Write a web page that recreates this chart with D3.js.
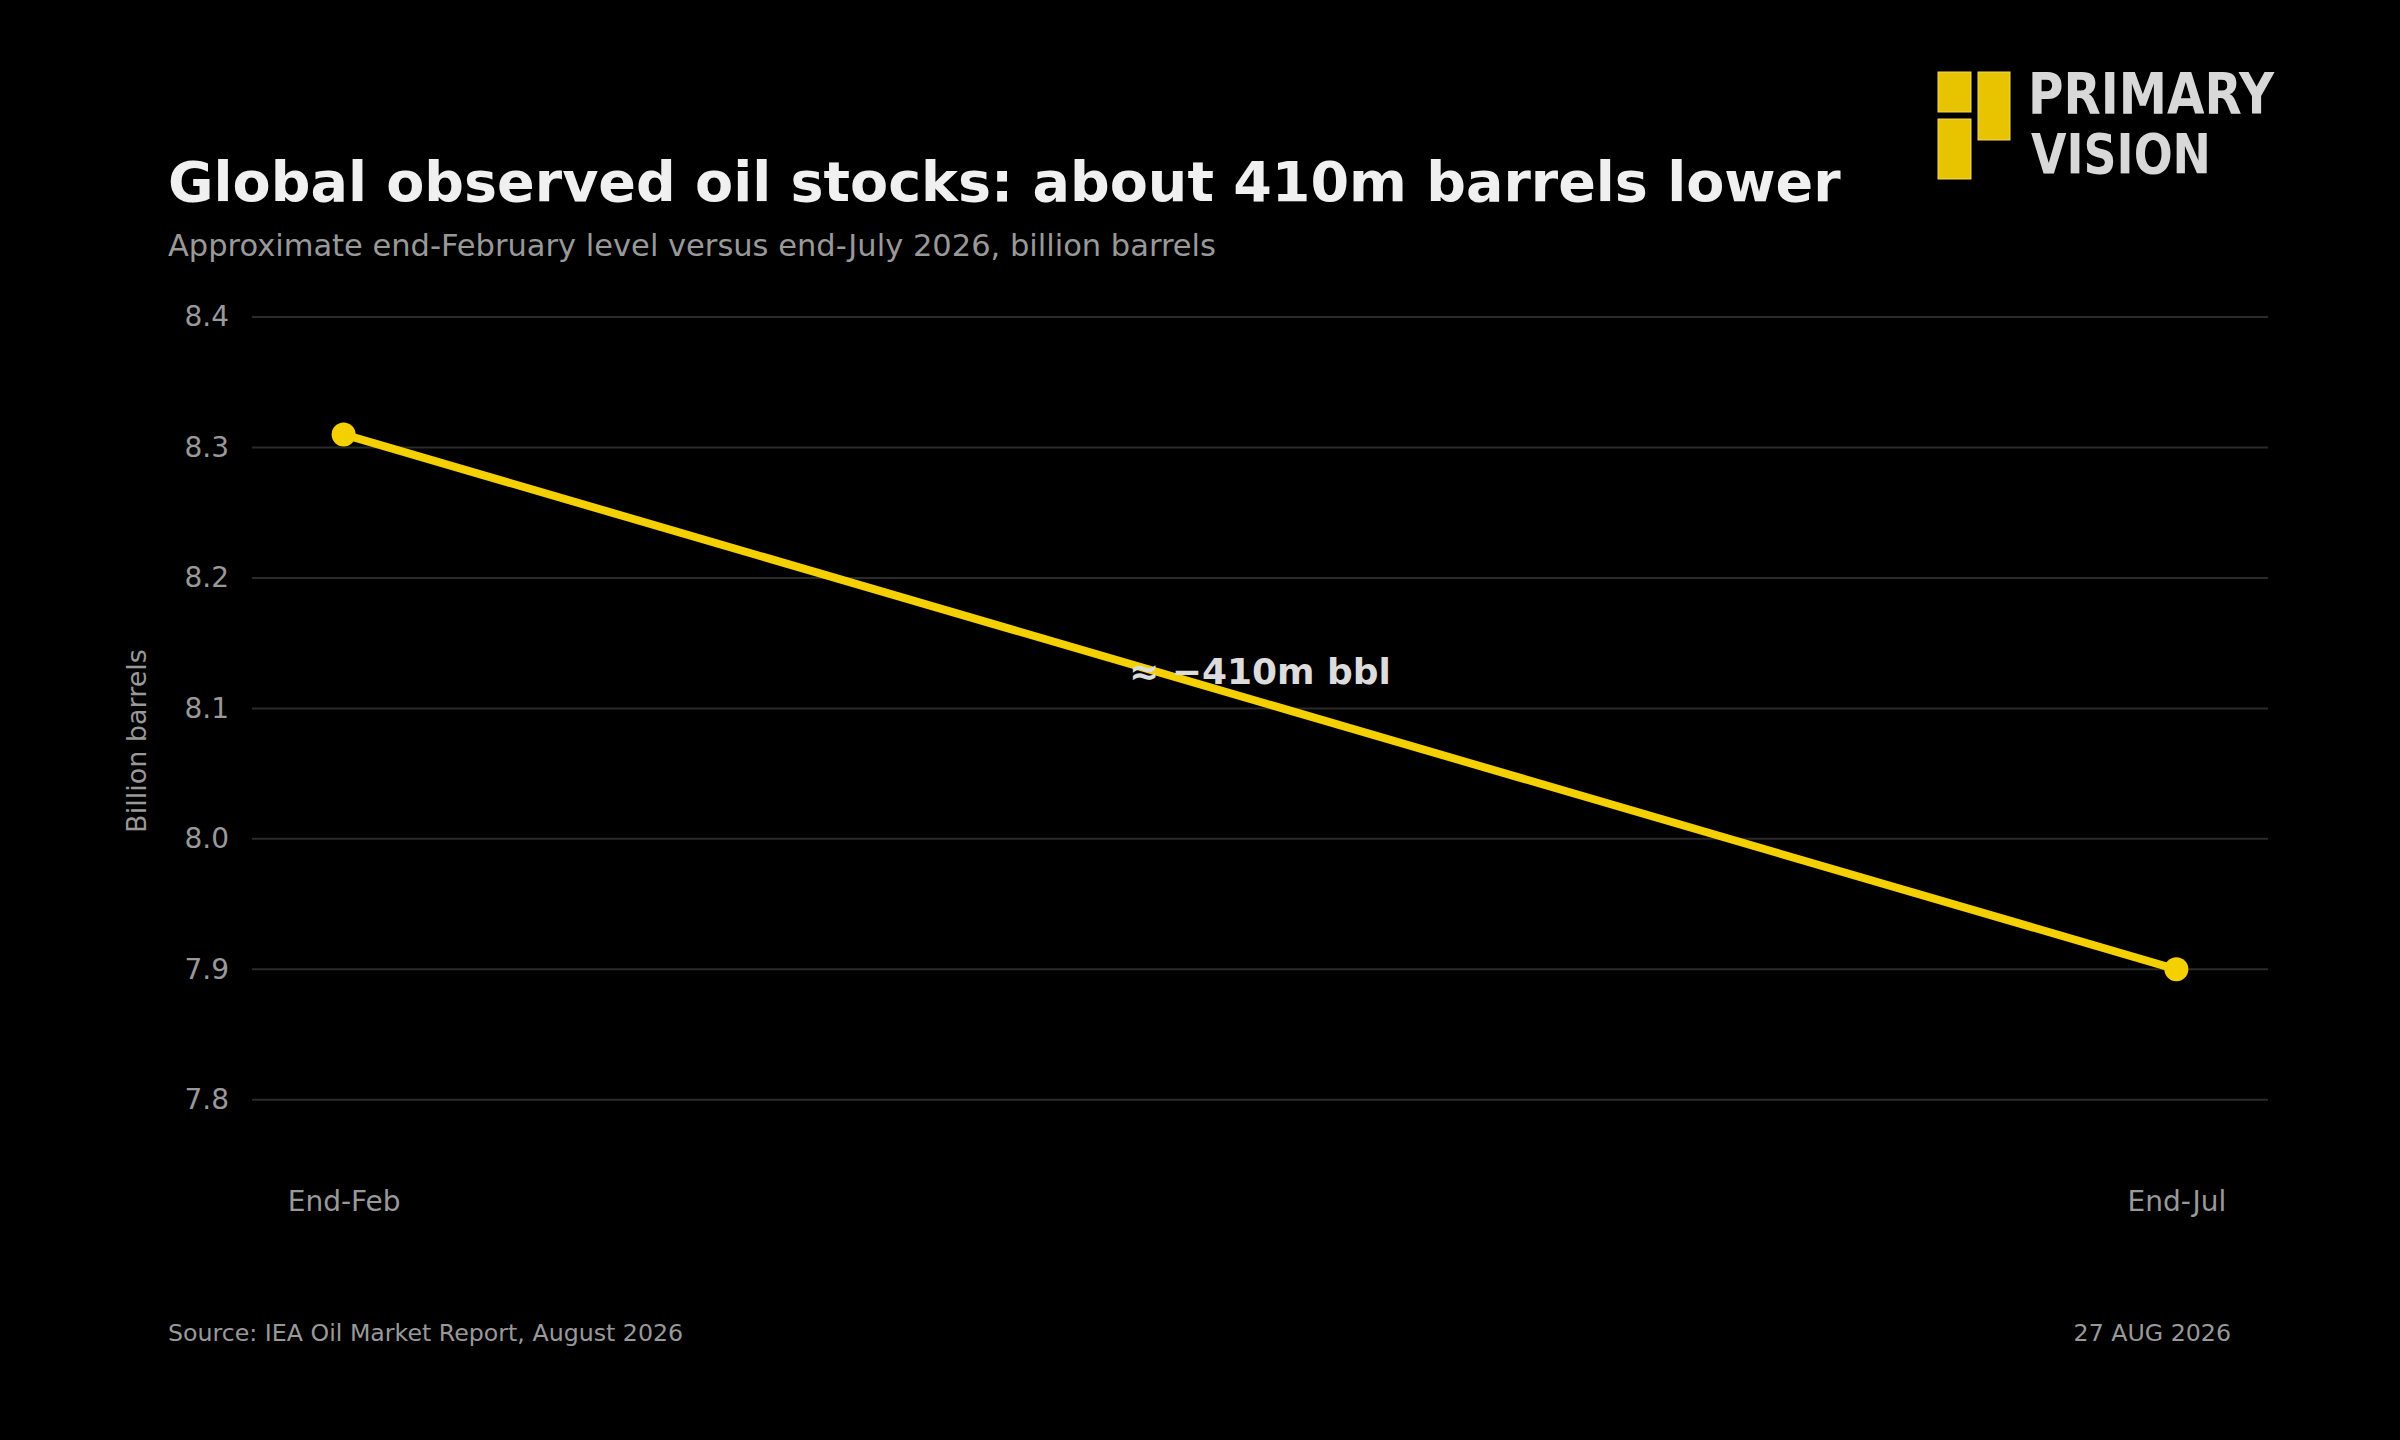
<!DOCTYPE html>
<html>
<head>
<meta charset="utf-8">
<script src="https://cdn.jsdelivr.net/npm/d3@7"></script>
<style>
  html, body { margin: 0; padding: 0; background: #000; }
  svg { display: block; }
</style>
</head>
<body>
<svg id="chart" width="2400" height="1440"></svg>
<script>
// data
const periods = ["End-Feb", "End-Jul"]
const stocks = [8.31, 7.90]
const yTicks = [7.8, 7.9, 8.0, 8.1, 8.2, 8.3, 8.4]
const changeLabel = "≈ −410m bbl"

const W = 2400, H = 1440
const margin = { top: 317, right: 132, bottom: 275, left: 252 }
const font = "DejaVu Sans, sans-serif"

const svg = d3.select("#chart")
svg.append("rect").attr("width", W).attr("height", H).attr("fill", "#000")

const x = d3.scalePoint()
  .domain(periods)
  .range([margin.left, W - margin.right])
  .padding(0.05)

const y = d3.scaleLinear()
  .domain([7.75, 8.4])
  .range([H - margin.bottom, margin.top])

// gridlines
svg.append("g")
  .selectAll("line")
  .data(yTicks)
  .join("line")
  .attr("x1", margin.left)
  .attr("x2", W - margin.right)
  .attr("y1", d => y(d))
  .attr("y2", d => y(d))
  .attr("stroke", "#2a2a2a")
  .attr("stroke-width", 2)

// y axis
const yAxis = svg.append("g")
  .attr("transform", `translate(${margin.left},0)`)
  .call(d3.axisLeft(y).tickValues(yTicks).tickFormat(d3.format(".1f")).tickSize(0).tickPadding(23))
yAxis.select(".domain").remove()
yAxis.selectAll("text")
  .attr("fill", "#999")
  .style("font-family", font)
  .style("font-size", "28px")

// x axis
const xAxis = svg.append("g")
  .attr("transform", `translate(0,${H - margin.bottom})`)
  .call(d3.axisBottom(x).tickSize(0).tickPadding(26))
xAxis.select(".domain").remove()
xAxis.selectAll("text")
  .attr("fill", "#999")
  .style("font-family", font)
  .style("font-size", "28px")

// y axis title
svg.append("text")
  .attr("transform", `translate(146,${(margin.top + H - margin.bottom) / 2}) rotate(-90)`)
  .attr("text-anchor", "middle")
  .attr("fill", "#999")
  .style("font-family", font)
  .style("font-size", "27px")
  .text("Billion barrels")

// line + points
const line = d3.line().x((d, i) => x(periods[i])).y(d => y(d))
svg.append("path")
  .datum(stocks)
  .attr("d", line)
  .attr("fill", "none")
  .attr("stroke", "#f5d000")
  .attr("stroke-width", 8)

svg.append("g")
  .selectAll("circle")
  .data(stocks)
  .join("circle")
  .attr("cx", (d, i) => x(periods[i]))
  .attr("cy", d => y(d))
  .attr("r", 12)
  .attr("fill", "#f5d000")

// annotation
const midX = (x(periods[0]) + x(periods[1])) / 2
const midY = y(d3.mean(stocks))
svg.append("text")
  .attr("x", midX)
  .attr("y", midY - 18)
  .attr("text-anchor", "middle")
  .attr("fill", "#dcdcdc")
  .style("font-family", font)
  .style("font-weight", "bold")
  .style("font-size", "36px")
  .text(changeLabel)

// titles
svg.append("text")
  .attr("x", 168).attr("y", 201)
  .attr("fill", "#f0f0f0")
  .style("font-family", font)
  .style("font-weight", "bold")
  .style("font-size", "55.5px")
  .text("Global observed oil stocks: about 410m barrels lower")

svg.append("text")
  .attr("x", 168).attr("y", 256)
  .attr("fill", "#999")
  .style("font-family", font)
  .style("font-size", "30.5px")
  .text("Approximate end-February level versus end-July 2026, billion barrels")

// footer
svg.append("text")
  .attr("x", 168).attr("y", 1341)
  .attr("fill", "#999")
  .style("font-family", font)
  .style("font-size", "23.7px")
  .text("Source: IEA Oil Market Report, August 2026")

svg.append("text")
  .attr("x", 2231).attr("y", 1341)
  .attr("text-anchor", "end")
  .attr("fill", "#999")
  .style("font-family", font)
  .style("font-size", "23.7px")
  .text("27 AUG 2026")

// logo
const logo = svg.append("g")
const blocks = [[1938, 72, 33, 40], [1938, 119, 33, 60], [1978, 72, 32, 68]]
logo.selectAll("rect")
  .data(blocks)
  .join("rect")
  .attr("x", d => d[0]).attr("y", d => d[1])
  .attr("width", d => d[2]).attr("height", d => d[3])
  .attr("fill", "#e8c400")
  .attr("stroke", "#f0d860")
  .attr("stroke-width", 1)

logo.append("text")
  .attr("x", 2028).attr("y", 114)
  .attr("fill", "#d8d8d8")
  .attr("textLength", 246)
  .attr("lengthAdjust", "spacingAndGlyphs")
  .style("font-family", "DejaVu Sans Condensed, DejaVu Sans, sans-serif")
  .style("font-weight", "bold")
  .style("font-size", "57px")
  .text("PRIMARY")

logo.append("text")
  .attr("x", 2031).attr("y", 173)
  .attr("fill", "#d8d8d8")
  .attr("textLength", 180)
  .attr("lengthAdjust", "spacingAndGlyphs")
  .style("font-family", "DejaVu Sans Condensed, DejaVu Sans, sans-serif")
  .style("font-weight", "bold")
  .style("font-size", "55px")
  .text("VISION")
</script>
</body>
</html>
